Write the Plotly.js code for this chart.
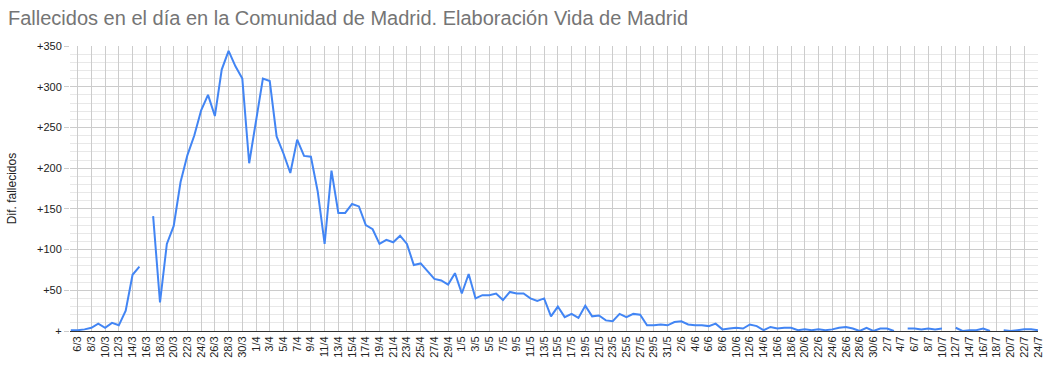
<!DOCTYPE html>
<html>
<head>
<meta charset="utf-8">
<script src="https://cdn.plot.ly/plotly-3.0.1.min.js"></script>
<style>
  html, body { margin: 0; padding: 0; background: #fff; }
  #chart { width: 1050px; height: 374px; }
</style>
</head>
<body>
<div id="chart"></div>
<script>
const dates = [
  "5/3","6/3","7/3","8/3","9/3","10/3","11/3","12/3","13/3","14/3","15/3","16/3","17/3","18/3","19/3","20/3",
  "21/3","22/3","23/3","24/3","25/3","26/3","27/3","28/3","29/3","30/3","31/3",
  "1/4","2/4","3/4","4/4","5/4","6/4","7/4","8/4","9/4","10/4","11/4","12/4","13/4","14/4","15/4",
  "16/4","17/4","18/4","19/4","20/4","21/4","22/4","23/4","24/4","25/4","26/4","27/4","28/4","29/4","30/4",
  "1/5","2/5","3/5","4/5","5/5","6/5","7/5","8/5","9/5","10/5","11/5","12/5","13/5","14/5","15/5","16/5",
  "17/5","18/5","19/5","20/5","21/5","22/5","23/5","24/5","25/5","26/5","27/5","28/5","29/5","30/5","31/5",
  "1/6","2/6","3/6","4/6","5/6","6/6","7/6","8/6","9/6","10/6","11/6","12/6","13/6","14/6","15/6",
  "16/6","17/6","18/6","19/6","20/6","21/6","22/6","23/6","24/6","25/6","26/6","27/6","28/6","29/6","30/6",
  "1/7","2/7","3/7","4/7","5/7","6/7","7/7","8/7","9/7","10/7","11/7","12/7","13/7","14/7","15/7","16/7",
  "17/7","18/7","19/7","20/7","21/7","22/7","23/7","24/7"
];

const fallecidos = [
  1, 1, 2, 4, 9, 4, 10, 7, 25, 69, 79, null, 141, 35, 107, 129,
  183, 216, 240, 271, 290, 264, 321, 344, 325, 310, 206,
  256, 310, 307, 239, 218, 194, 235, 215, 214, 171, 107, 197, 145, 145, 156,
  153, 130, 125, 107, 112, 109, 117, 107, 81, 83, 74, 64, 62, 57, 71,
  46, 70, 40, 44, 44, 46, 38, 48, 46, 46, 40, 37, 40, 18, 30, 17,
  21, 16, 31, 18, 19, 13, 12, 21, 17, 21, 20, 7, 7, 8, 7,
  11, 12, 8, 7, 7, 6, 9, 2, 3, 4, 3, 8, 6, 1, 5,
  3, 4, 4, 1, 2, 1, 2, 1, 2, 4, 5, 3, 0, 4, 0,
  3, 3, 0, null, 3, 3, 2, 3, 2, 3, null, 4, 0, 1, 1, 3,
  0, null, 1, 0, 1, 2, 2, 1
];

const yTickVals = [0, 50, 100, 150, 200, 250, 300, 350];
const yTickText = ["+", "+50", "+100", "+150", "+200", "+250", "+300", "+350"];

const titleText = "Fallecidos en el día en la Comunidad de Madrid. Elaboración Vida de Madrid";
const yTitleText = "Dif. fallecidos";

// x tick labels: every second date, starting with 6/3
const xTickVals = dates.filter((d, i) => i % 2 === 1);

const trace = {
  type: "scatter",
  mode: "lines",
  x: dates,
  y: fallecidos,
  connectgaps: false,
  line: { color: "#4285F4", width: 2 },
  hoverinfo: "x+y"
};

const layout = {
  width: 1050,
  height: 374,
  margin: { l: 70, r: 12, t: 46, b: 43, pad: 0 },
  paper_bgcolor: "#ffffff",
  plot_bgcolor: "#ffffff",
  font: { family: "Arial, 'Liberation Sans', sans-serif", color: "#222222", size: 11 },
  showlegend: false,
  title: {
    text: titleText,
    x: 8 / 1050, xanchor: "left", xref: "container",
    y: 0.952, yanchor: "middle", yref: "container",
    font: { family: "Arial, 'Liberation Sans', sans-serif", size: 20, color: "#757575" }
  },
  xaxis: {
    type: "category",
    range: [-0.12, 141],
    tickmode: "array",
    tickvals: xTickVals,
    ticktext: xTickVals,
    tickangle: -90,
    tickfont: { size: 11, color: "#222222" },
    showgrid: true,
    gridcolor: "#cccccc",
    gridwidth: 1,
    showline: true,
    linecolor: "#333333",
    linewidth: 1,
    ticks: "",
    zeroline: false,
    fixedrange: true
  },
  yaxis: {
    range: [0, 350],
    tickmode: "array",
    tickvals: yTickVals,
    ticktext: yTickText,
    tickfont: { size: 11, color: "#222222" },
    ticks: "outside",
    ticklen: 5,
    tickcolor: "#cccccc",
    showgrid: true,
    gridcolor: "#cccccc",
    gridwidth: 1,
    zeroline: false,
    showline: false,
    minor: {
      tickmode: "linear",
      tick0: 0,
      dtick: 10,
      showgrid: true,
      gridcolor: "#e8e8e8",
      gridwidth: 1,
      ticks: ""
    },
    title: {
      text: yTitleText,
      font: { size: 12, color: "#222222" },
      standoff: 17
    },
    fixedrange: true
  }
};

Plotly.newPlot("chart", [trace], layout, { displayModeBar: false, staticPlot: true });
</script>
</body>
</html>
